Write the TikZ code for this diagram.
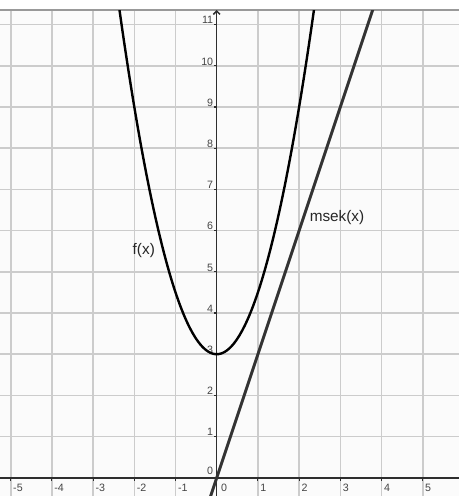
\documentclass[tikz,border=0pt]{standalone}
\usepackage{fontspec}
\setmainfont{Liberation Sans}
\usetikzlibrary{arrows.meta}
\definecolor{bgc}{HTML}{FBFBFB}
\definecolor{gridc}{HTML}{CCCCCC}
\definecolor{axc}{HTML}{2E2E2E}
\definecolor{tickc}{HTML}{444444}
\definecolor{linec}{HTML}{333333}
\tikzset{
  gridline/.style={draw=gridc, line width=1.2pt},
  axisline/.style={draw=axc, line width=1.1pt},
  ticklab/.style={font=\fontsize{8}{9}\selectfont, text=tickc, inner sep=0pt},
  funclab/.style={font=\fontsize{11.5}{12}\selectfont, text=black!85, inner sep=0pt},
}
\begin{document}
\begin{tikzpicture}[x=30.9pt,y=30.9pt]
\useasboundingbox (-5.26,-0.4417) rectangle (5.881,11.597);
% plot background
\fill[white] (-5.26,11.354) rectangle (5.881,11.597);
\fill[bgc] (-5.26,-0.4417) rectangle (5.881,11.354);
% grid
\foreach \i in {-5,...,-1,1,2,...,5} \draw[gridline] (\i,-0.4417) -- (\i,11.354);
\foreach \j in {1,...,11} \draw[gridline] (-5.26,\j) -- (5.881,\j);
\draw[draw=gray!80, line width=1.1pt] (-5.26,11.354) -- (5.881,11.354);
% axes
\coordinate (xl) at (-5.26,0);
\coordinate (xr) at (5.881,0);
\coordinate (yb) at (0,-0.4417);
\coordinate (yt) at (0,11.354);
\draw[axisline] (xl) -- (xr);
\draw[axisline, -{Straight Barb[length=2.5pt,width=5pt]}] (yb) -- (yt);
% ticks and labels
\foreach \i in {-5,...,-1,1,2,...,5} {
  \draw[axc, line width=0.8pt] (\i,0) -- (\i,-0.07);
  \node[ticklab, anchor=west] at (\i+0.055,-0.24) {\i};
}
\node[ticklab, anchor=west] at (0.1,-0.24) {0};
\foreach \j in {1,...,11} {
  \draw[axc, line width=0.8pt] (0,\j) -- (-0.07,\j);
  \node[ticklab, anchor=south east] at (-0.08,\j+0.01) {\j};
}
\node[ticklab, anchor=south east] at (-0.08,0.07) {0};
% curves
\begin{scope}
\clip (-5.26,-0.4417) rectangle (5.881,11.354);
\draw[linec, line width=2.2pt] plot[domain=-0.16:3.9, samples=2] (\x,{3*\x});
\draw[black, line width=1.8pt, smooth] plot[domain=-2.42:2.42, samples=121] (\x,{1.5*\x*\x+3});
\end{scope}
\node[funclab] (flab) at (-1.77,5.517) {f(x)};
\node[funclab] (mlab) at (2.92,6.318) {msek(x)};
\end{tikzpicture}
\end{document}
